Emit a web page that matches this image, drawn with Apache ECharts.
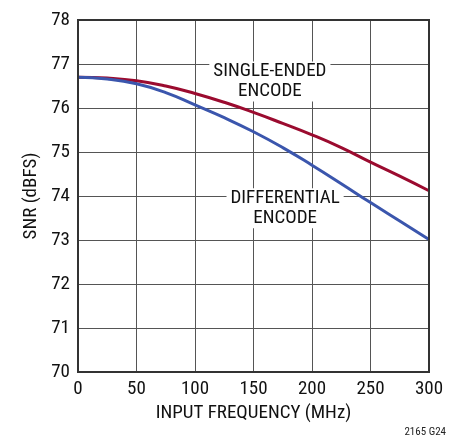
<!DOCTYPE html>
<html><head><meta charset="utf-8">
<script src="https://cdn.jsdelivr.net/npm/echarts@6/dist/echarts.min.js"></script>
<style>html,body{margin:0;padding:0;background:#fff}#c{width:460px;height:438px}</style>
</head><body><div id="c"></div>
<script>
var freq = [0, 25, 50, 75, 100, 125, 150, 175, 200, 225, 250, 275, 300];
var singleEnded = [76.70, 76.68, 76.62, 76.50, 76.33, 76.13, 75.90, 75.65, 75.39, 75.10, 74.77, 74.45, 74.12];
var differential = [76.70, 76.66, 76.55, 76.35, 76.07, 75.78, 75.46, 75.10, 74.70, 74.28, 73.85, 73.43, 73.01];
var xTicks = [0, 50, 100, 150, 200, 250, 300];
var yTicks = [70, 71, 72, 73, 74, 75, 76, 77, 78];

var FONT = "'Liberation Sans Narrow', 'Roboto Condensed', 'DejaVu Sans Condensed', sans-serif";
var chart = echarts.init(document.getElementById('c'), null, {renderer: 'canvas'});
function pairs(ys){ return freq.map(function(f,i){return [f, ys[i]];}); }
chart.setOption({
  animation: false,
  grid: {left: 78, right: 31, top: 20, bottom: 66},
  xAxis: {
    type: 'value', min: 0, max: 300, interval: 50,
    name: 'INPUT FREQUENCY (MHz)', nameLocation: 'middle', nameGap: 32,
    nameTextStyle: {fontFamily: FONT, fontSize: 19, color: '#111'},
    axisLine: {show: true, lineStyle: {color: '#333', width: 2}},
    axisTick: {show: false},
    axisLabel: {fontFamily: FONT, fontSize: 19, color: '#111', margin: 8},
    splitLine: {show: true, lineStyle: {color: '#555', width: 1}}
  },
  yAxis: {
    type: 'value', min: 70, max: 78, interval: 1,
    name: 'SNR (dBFS)', nameLocation: 'middle', nameGap: 36, nameRotate: 90,
    nameTextStyle: {fontFamily: FONT, fontSize: 19, color: '#111'},
    axisLine: {show: true, lineStyle: {color: '#333', width: 2}},
    axisTick: {show: false},
    axisLabel: {fontFamily: FONT, fontSize: 19, color: '#111', margin: 8},
    splitLine: {show: true, lineStyle: {color: '#555', width: 1}}
  },
  series: [
    {type: 'line', name: 'SINGLE-ENDED', data: pairs(singleEnded), smooth: true, showSymbol: false,
     lineStyle: {color: '#9b0b2f', width: 3}, z: 3},
    {type: 'line', name: 'DIFFERENTIAL', data: pairs(differential), smooth: true, showSymbol: false,
     lineStyle: {color: '#3b56ad', width: 3}, z: 3}
  ]
});
var tl = chart.convertToPixel({xAxisIndex:0, yAxisIndex:0}, [0, 78]);
var br = chart.convertToPixel({xAxisIndex:0, yAxisIndex:0}, [300, 70]);
var lbl1 = chart.convertToPixel({xAxisIndex:0, yAxisIndex:0}, [164, 76.6]);
var lbl2 = chart.convertToPixel({xAxisIndex:0, yAxisIndex:0}, [177, 73.72]);
chart.setOption({
  graphic: [
    {type: 'rect', shape: {x: tl[0], y: tl[1], width: br[0]-tl[0], height: br[1]-tl[1]},
     style: {fill: 'none', stroke: '#333', lineWidth: 2}, z: 10},
    {type: 'text', x: lbl1[0], y: lbl1[1], z: 1,
     style: {text: 'SINGLE-ENDED\nENCODE', fontFamily: FONT, fontSize: 19, lineHeight: 20, fill: '#111',
             align: 'center', verticalAlign: 'middle', backgroundColor: '#fff', padding: [0, 4, 0, 4]}},
    {type: 'text', x: lbl2[0], y: lbl2[1], z: 1,
     style: {text: 'DIFFERENTIAL\nENCODE', fontFamily: FONT, fontSize: 19, lineHeight: 20, fill: '#111',
             align: 'center', verticalAlign: 'middle', backgroundColor: '#fff', padding: [0, 4, 0, 4]}},
    {type: 'text', x: 446, y: 432, z: 5,
     style: {text: '2165 G24', fontFamily: FONT, fontSize: 11, fill: '#222', align: 'right', verticalAlign: 'middle'}}
  ]
});
</script></body></html>
